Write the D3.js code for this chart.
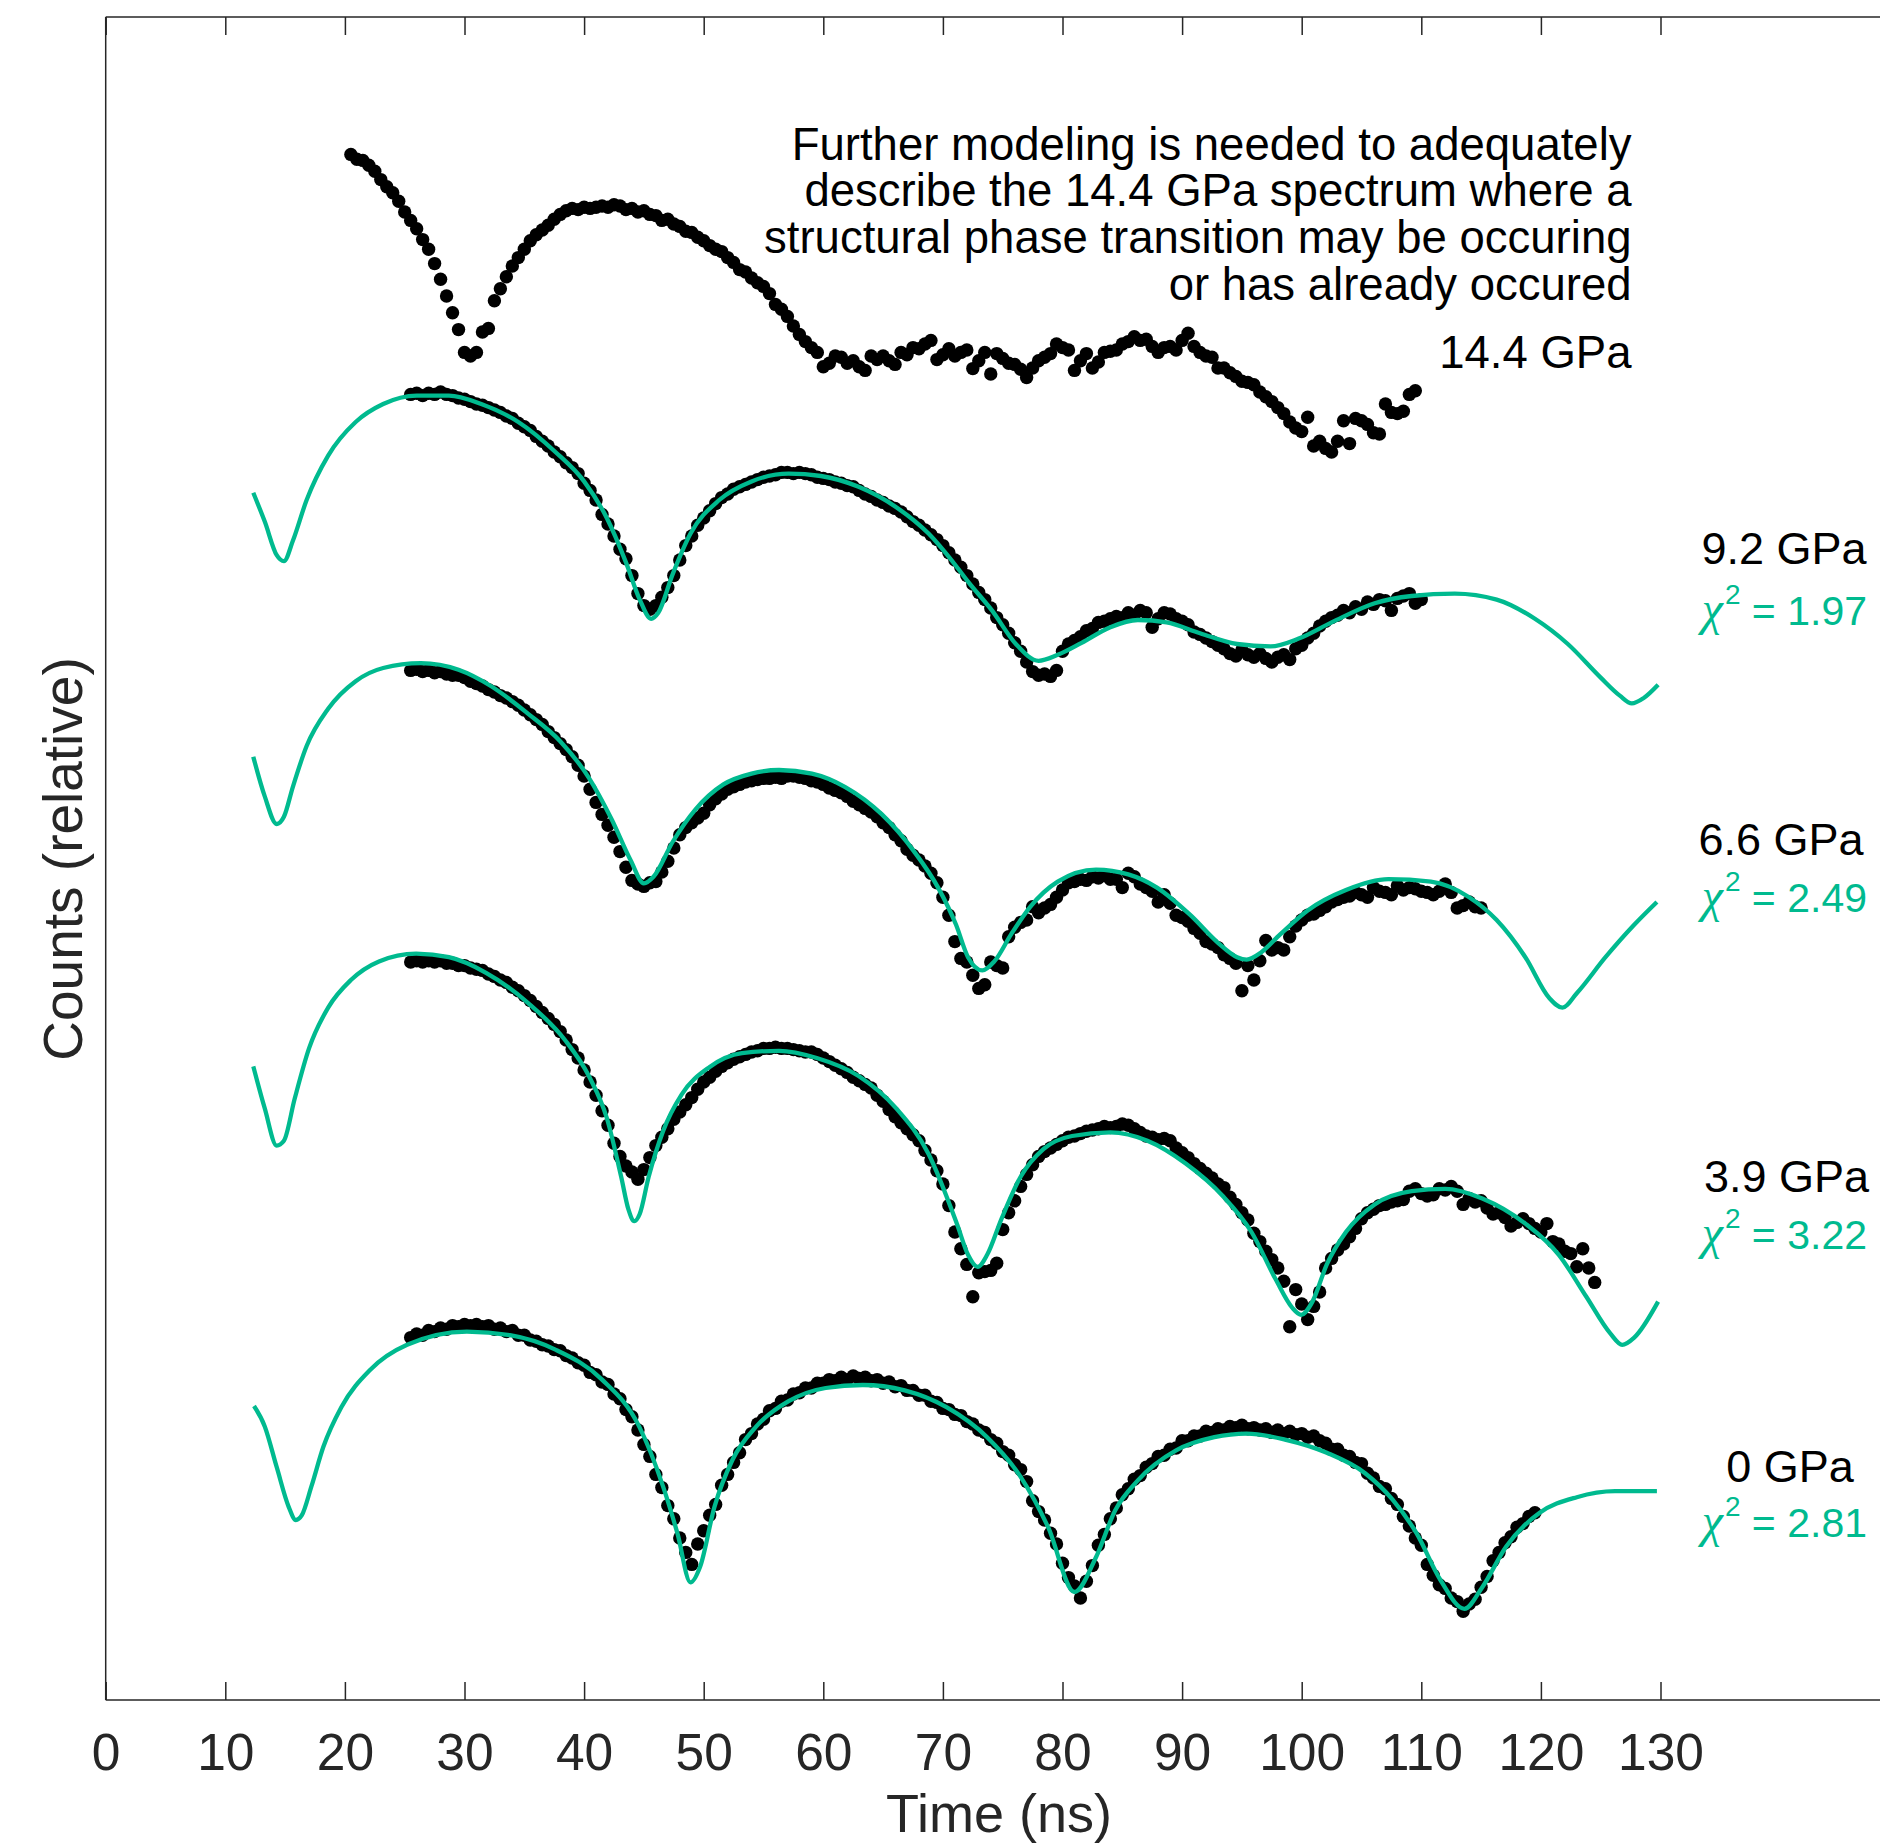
<!DOCTYPE html>
<html>
<head>
<meta charset="utf-8">
<script src="https://cdn.jsdelivr.net/npm/d3@7"></script>
<style>
  html, body { margin: 0; padding: 0; background: #ffffff; }
  svg { display: block; }
</style>
</head>
<body>
<svg id="chart" width="1880" height="1845"></svg>
<script>
// ---------------------------------------------------------------
// Time spectra (relative counts, offset per pressure), 0.5 ns bins
// ---------------------------------------------------------------
const binWidth = 0.5;

const start14_4 = 20.5;
const counts14_4 = [
  128.8,128.4,128.3,127.9,127.4,126.7,126.1,125.6,124.9,124.0,
  123.3,122.6,121.7,120.9,119.7,118.4,117.0,115.6,114.2,112.3,
  112.0,112.3,114.0,114.3,116.6,117.6,118.6,119.5,120.2,120.9,
  121.6,122.1,122.5,122.9,123.4,123.8,124.1,124.3,124.2,124.4,
  124.3,124.4,124.5,124.4,124.6,124.5,124.2,124.3,124.0,124.1,
  123.8,123.7,123.3,123.4,123.0,122.8,122.4,122.3,121.9,121.6,
  121.2,120.9,120.7,120.2,119.8,119.2,119.0,118.5,118.1,117.8,
  117.2,116.3,115.9,115.3,114.5,113.8,113.2,112.7,112.3,111.1,
  111.4,112.0,111.9,111.4,111.6,111.1,110.8,112.0,111.7,112.0,
  111.6,111.3,112.3,112.1,112.7,112.6,113.0,113.3,111.7,112.1,
  112.6,112.0,112.3,112.5,110.95,111.6,112.3,110.5,112.2,111.8,
  111.4,111.3,110.9,110.2,111.0,111.6,111.9,112.2,113.0,112.7,
  112.5,110.8,111.6,112.2,111.0,111.5,112.3,112.4,112.5,113.0,
  113.2,113.6,113.3,113.4,112.8,112.3,112.7,112.8,112.5,113.3,
  113.9,112.8,112.3,112.0,111.9,111.0,111.0,110.6,110.3,109.9,
  109.8,109.6,109.0,108.6,108.2,107.7,107.2,106.5,106.0,105.7,
  106.9,104.5,104.9,104.3,104.0,104.9,106.6,104.7,106.8,106.6,
  106.3,105.6,105.5,108.0,107.3,107.2,107.4,108.8,109.1
];

const start9_2 = 25.5;
const counts9_2 = [
  108.8,108.9,108.7,108.9,108.8,109.0,108.8,108.7,108.5,108.4,
  108.2,108.0,107.9,107.7,107.5,107.3,107.0,106.8,106.4,106.1,
  105.8,105.3,104.9,104.5,104.0,103.6,103.1,102.7,102.2,101.4,
  100.8,100.0,98.8,98.0,97.0,95.9,95.1,93.7,92.2,91.2,
  90.9,91.2,91.9,92.7,93.7,95.0,96.2,97.0,97.9,98.5,
  99.1,99.7,100.2,100.5,100.9,101.1,101.3,101.5,101.7,101.9,
  102.0,102.1,102.3,102.3,102.2,102.3,102.2,102.1,101.9,101.8,
  101.7,101.5,101.4,101.2,101.1,100.8,100.5,100.3,100.0,99.8,
  99.5,99.3,99.0,98.6,98.2,97.9,97.5,97.1,96.7,96.2,
  95.6,95.0,94.4,93.7,93.0,92.3,91.7,91.0,90.2,89.6,
  88.9,88.1,87.4,86.5,85.7,85.4,85.5,85.3,85.8,87.4,
  88.0,88.3,88.6,89.1,89.3,89.8,89.9,90.1,90.3,90.2,
  90.6,90.4,90.8,90.6,89.4,90.1,90.6,90.5,90.1,89.9,
  89.6,89.0,88.8,88.5,88.2,87.9,87.6,87.2,87.0,87.5,
  87.1,86.9,87.2,86.8,86.5,86.9,87.1,86.7,87.6,87.9,
  88.5,88.9,89.5,89.9,90.2,90.4,90.8,90.6,91.1,90.9,
  91.5,91.3,91.7,91.6,90.8,91.8,92.0,92.2,91.4,91.7
];

const start6_6 = 25.5;
const counts6_6 = [
  85.8,85.9,85.7,85.8,85.6,85.7,85.5,85.4,85.4,85.2,
  84.9,84.7,84.5,84.2,84.0,83.7,83.5,83.2,82.9,82.5,
  82.1,81.7,81.3,80.7,80.2,79.7,79.2,78.6,77.9,77.0,
  75.9,74.8,73.8,72.9,71.9,70.7,69.4,68.3,68.0,67.8,
  68.1,68.2,69.0,69.9,71.0,72.1,72.7,73.1,73.5,73.9,
  74.6,75.1,75.5,75.9,76.1,76.3,76.5,76.6,76.7,76.8,
  76.8,76.9,76.8,77.0,77.0,76.9,76.8,76.6,76.5,76.3,
  76.0,75.8,75.6,75.3,74.9,74.6,74.3,74.0,73.6,73.1,
  72.7,72.1,71.6,70.9,70.4,70.0,69.5,68.9,68.1,66.9,
  65.4,63.2,61.8,61.5,60.4,59.3,59.6,61.5,61.2,61.0,
  63.6,64.4,64.8,65.0,66.1,65.6,66.0,66.3,66.9,67.5,
  68.1,68.2,68.4,68.3,68.6,68.5,68.7,68.4,68.4,67.7,
  68.9,68.6,68.0,67.7,67.4,66.5,67.1,66.4,65.4,65.2,
  64.9,64.3,63.9,63.2,63.0,62.7,62.1,61.8,61.4,59.1,
  61.2,60.0,61.6,63.3,62.5,62.7,62.5,63.6,64.5,65.0,
  65.4,65.5,65.8,66.1,66.5,66.7,66.9,67.0,67.3,67.1,
  66.9,67.7,67.4,67.3,67.1,67.85,67.5,67.7,67.6,67.4,
  67.3,67.1,67.4,68.0,67.3,66.0,66.2,66.5,66.1,66.0
];

const start3_9 = 25.5;
const counts3_9 = [
  61.5,61.6,61.5,61.6,61.5,61.6,61.4,61.4,61.2,61.2,
  61.0,60.9,60.8,60.5,60.3,60.0,59.8,59.4,59.1,58.7,
  58.3,57.8,57.3,56.8,56.3,55.7,55.0,54.2,53.5,52.5,
  51.5,50.4,49.1,47.9,46.4,45.3,44.5,44.0,43.4,44.2,
  45.2,46.2,46.9,47.6,48.4,49.0,49.6,50.2,50.9,51.5,
  51.9,52.4,52.8,53.1,53.4,53.6,53.8,54.0,54.1,54.3,
  54.3,54.4,54.3,54.3,54.2,54.1,54.0,54.0,53.8,53.5,
  53.2,52.9,52.6,52.3,51.9,51.6,51.3,51.0,50.4,49.9,
  49.2,48.6,48.1,47.6,47.1,46.6,45.8,45.0,44.1,43.0,
  41.2,39.0,37.6,36.3,33.6,35.6,35.7,35.8,36.4,39.2,
  40.6,41.6,42.8,43.8,44.6,45.3,45.7,46.0,46.3,46.6,
  46.9,47.0,47.2,47.4,47.5,47.6,47.8,47.7,47.8,48.0,
  47.9,47.6,47.3,47.0,46.9,46.7,46.8,46.6,46.0,45.6,
  45.2,44.7,44.3,43.9,43.5,43.0,42.7,41.9,41.3,40.6,
  40.0,38.9,38.2,37.4,36.7,36.0,34.9,31.1,34.2,33.0,
  31.7,32.8,34.0,36.0,36.8,37.5,38.0,38.6,39.3,40.1,
  40.6,40.9,41.2,41.3,41.5,41.6,41.7,42.4,42.6,42.2,
  42.0,42.1,42.6,42.5,42.8,42.4,41.3,41.8,41.5,41.6,
  41.0,40.5,40.6,40.2,39.5,39.8,40.1,39.7,39.3,39.0,
  39.7,38.2,38.0,37.4,37.2,36.1,37.6,36.0,34.8
];

const start0 = 25.5;
const counts0 = [
  30.2,30.5,30.4,30.8,30.7,31.0,30.9,31.2,31.1,31.3,
  31.2,31.3,31.1,31.2,30.9,31.0,30.7,30.8,30.4,30.4,
  30.0,29.9,29.6,29.5,29.2,29.1,28.7,28.5,28.1,27.9,
  27.3,27.1,26.5,26.3,25.5,25.1,24.2,23.6,22.5,21.3,
  20.3,18.8,17.7,16.2,15.1,13.5,12.3,11.3,13.0,14.1,
  15.4,16.3,17.9,18.8,19.8,20.6,21.7,22.2,23.0,23.4,
  24.1,24.3,24.9,25.0,25.5,25.6,26.0,26.0,26.4,26.4,
  26.7,26.6,26.9,26.7,27.0,26.8,26.9,26.6,26.7,26.4,
  26.5,26.1,26.2,25.8,25.8,25.4,25.4,24.9,24.8,24.3,
  24.2,23.8,23.7,23.2,23.0,22.5,22.3,21.7,21.4,20.7,
  20.4,19.6,19.2,18.2,16.6,15.7,15.0,13.9,13.0,11.4,
  10.2,9.5,8.5,9.9,11.2,12.9,13.8,15.1,16.0,17.1,
  17.6,18.4,18.7,19.4,19.7,20.3,20.4,20.9,21.0,21.6,
  21.6,22.0,22.0,22.4,22.3,22.6,22.5,22.8,22.7,22.9,
  22.6,22.7,22.5,22.6,22.3,22.5,22.2,22.4,22.1,22.2,
  21.9,22.0,21.6,21.4,20.9,20.9,20.4,20.3,19.8,19.7,
  18.9,18.5,17.8,17.6,16.8,16.3,15.3,14.5,13.5,12.9,
  11.3,10.4,9.6,9.3,8.5,8.2,7.4,8.0,8.4,9.4,
  10.3,11.6,12.3,13.1,13.6,14.4,14.7,15.3,15.6
];

// ---------------------------------------------------------------
// Fitted model curves: [time (ns), relative counts]
// ---------------------------------------------------------------
const fit9_2 = [
  [12.34,100.6],[13.3,98.2],[14.3,95.4],[14.9,94.9],[15.65,96.6],[16.8,100.0],
  [18.6,103.7],[20.9,106.5],[23.2,108.0],[26.0,108.7],[28.7,108.7],[31.4,108.0],
  [34.5,106.5],[37.6,104.0],[40.0,101.55],[41.9,98.5],[43.5,94.8],[44.65,91.7],
  [45.6,90.1],[46.2,90.6],[47.4,93.8],[48.9,97.2],[51.3,100.0],[54.0,101.55],
  [57.1,102.2],[59.8,102.0],[62.95,101.1],[66.1,99.4],[68.8,97.2],[71.1,94.5],
  [72.1,93.2],[74.1,90.8],[76.1,88.0],[78.0,86.6],[79.6,87.1],[81.6,88.1],
  [84.0,89.4],[86.3,90.0],[88.7,89.8],[91.5,88.9],[94.6,88.0],[97.4,87.8],
  [99.75,88.45],[102.5,89.8],[106.1,91.4],[109.2,92.0],[112.8,92.2],[116.3,91.7],
  [119.5,90.1],[122.25,88.0],[125.0,85.2],[126.6,83.7],[127.6,83.05],[128.6,83.5],
  [129.8,84.6]
];

const fit6_6 = [
  [12.34,78.6],[13.3,75.3],[14.3,73.0],[14.9,73.6],[15.65,76.1],[16.8,79.5],
  [18.6,82.6],[20.9,84.9],[23.2,86.0],[26.35,86.4],[29.5,85.85],[32.2,84.5],
  [35.3,82.2],[38.0,79.9],[40.4,76.85],[42.3,73.4],[43.9,69.96],[45.0,68.05],
  [45.8,68.6],[47.4,71.5],[49.3,74.2],[51.65,76.3],[54.0,77.2],[56.3,77.5],
  [59.05,77.2],[61.8,76.1],[64.9,73.8],[67.6,70.7],[69.6,67.7],[71.1,64.6],
  [72.1,61.9],[73.3,60.8],[74.3,61.55],[75.7,63.8],[77.3,66.1],[79.6,68.2],
  [82.8,69.2],[85.5,68.8],[87.9,67.7],[90.7,65.4],[93.0,63.1],[94.6,61.9],
  [95.4,61.7],[96.6,62.3],[98.2,63.8],[100.5,65.8],[103.7,67.5],[107.25,68.4],
  [110.8,68.2],[114.0,66.9],[116.3,65.0],[118.7,61.9],[120.7,58.5],[121.8,57.7],
  [123.0,58.9],[125.4,61.9],[127.8,64.6],[129.7,66.5]
];

const fit3_9 = [
  [12.34,52.8],[13.3,49.3],[14.3,46.2],[14.9,46.6],[15.8,50.1],[17.0,54.3],
  [18.6,57.7],[20.5,60.0],[22.85,61.55],[25.96,62.2],[28.7,61.9],[31.8,60.6],
  [35.3,58.1],[38.4,55.0],[40.4,52.0],[41.9,48.5],[43.1,43.6],[43.7,40.9],
  [44.2,39.9],[44.65,40.5],[45.4,43.6],[46.6,47.4],[48.15,50.45],[50.5,52.75],
  [53.2,53.9],[56.3,54.1],[59.45,53.5],[62.95,52.0],[66.1,49.3],[68.8,45.5],
  [71.2,39.6],[72.1,37.1],[72.9,36.1],[73.7,37.1],[74.9,40.1],[76.5,43.6],
  [78.4,45.9],[80.8,47.0],[84.0,47.3],[87.1,46.6],[90.3,44.7],[93.4,42.0],
  [95.8,39.0],[97.8,35.1],[99.2,32.7],[99.95,32.1],[100.9,33.2],[102.1,36.3],
  [103.7,39.0],[106.1,41.3],[109.2,42.4],[112.0,42.6],[115.1,41.8],[118.7,39.7],
  [121.5,37.1],[123.8,33.6],[125.8,30.55],[126.8,29.6],[127.8,30.2],[129.8,33.2]
];

const fit0 = [
  [12.4,24.5],[13.3,22.8],[14.3,19.4],[15.3,16.1],[15.9,15.0],[16.4,15.4],
  [17.2,17.8],[18.2,21.1],[19.7,24.4],[22.1,27.5],[25.2,29.6],[30.2,30.7],
  [33.8,30.4],[37.6,29.2],[41.5,26.7],[44.6,22.8],[46.6,17.8],[47.8,13.9],
  [48.9,9.8],[49.7,11.1],[50.9,16.1],[52.4,20.0],[54.4,22.8],[57.1,24.9],
  [60.2,26.0],[63.3,26.25],[66.8,25.8],[70.3,24.4],[73.7,21.9],[76.5,18.6],
  [78.8,14.4],[81.0,9.0],[82.8,11.9],[84.4,15.8],[86.3,18.3],[89.5,20.8],
  [92.7,21.9],[95.4,22.2],[98.6,21.7],[102.1,20.6],[105.3,18.9],[107.6,16.7],
  [109.6,13.9],[111.6,10.0],[113.6,7.6],[115.1,9.4],[117.1,12.8],[119.9,15.6],
  [123.0,16.9],[126.2,17.4],[129.7,17.4]
];

// ---------------------------------------------------------------
// Labels and ticks
// ---------------------------------------------------------------
const xTickValues = [0, 10, 20, 30, 40, 50, 60, 70, 80, 90, 100, 110, 120, 130];
const pressureNames = ["9.2 GPa", "6.6 GPa", "3.9 GPa", "0 GPa"];
const chiSquaredValues = ["1.97", "2.49", "3.22", "2.81"];
const noteLines = [
  "Further modeling is needed to adequately",
  "describe the 14.4 GPa spectrum where a",
  "structural phase transition may be occuring",
  "or has already occured"
];
const topSpectrumName = "14.4 GPa";

// ---------------------------------------------------------------
// Drawing
// ---------------------------------------------------------------
const GREEN = "#00ba8f";
const AXIS = "#262626";
const SANS = "'Liberation Sans', Arial, Helvetica, sans-serif";
const SERIF = "'Liberation Serif', 'Times New Roman', serif";

const svg = d3.select("#chart");
const frame = { left: 105.7, top: 17, bottom: 1700, right: 1880 };

const x = d3.scaleLinear().domain([0, 130]).range([105.7, 1660.5]);
const y = d3.scaleLinear().domain([0, 140.25]).range([frame.bottom, frame.top]);

// axes box (open on the right, where the panel runs off the page)
svg.append("line").attr("x1", frame.left).attr("x2", frame.right)
  .attr("y1", frame.bottom).attr("y2", frame.bottom)
  .attr("stroke", AXIS).attr("stroke-width", 1.5);
svg.append("line").attr("x1", frame.left).attr("x2", frame.right)
  .attr("y1", frame.top).attr("y2", frame.top)
  .attr("stroke", AXIS).attr("stroke-width", 1.5);
svg.append("line").attr("x1", frame.left).attr("x2", frame.left)
  .attr("y1", frame.top).attr("y2", frame.bottom)
  .attr("stroke", AXIS).attr("stroke-width", 1.5);

const bottomAxis = svg.append("g")
  .attr("transform", `translate(0,${frame.bottom})`)
  .call(d3.axisBottom(x).tickValues(xTickValues).tickSizeInner(-18).tickSizeOuter(0).tickPadding(33));
bottomAxis.select(".domain").remove();
bottomAxis.selectAll(".tick line").attr("stroke", AXIS).attr("stroke-width", 1.5);
bottomAxis.selectAll(".tick text")
  .attr("fill", AXIS).style("font-family", SANS).style("font-size", "51.5px");

const topAxis = svg.append("g")
  .attr("transform", `translate(0,${frame.top})`)
  .call(d3.axisTop(x).tickValues(xTickValues).tickSizeInner(-18).tickSizeOuter(0).tickFormat(""));
topAxis.select(".domain").remove();
topAxis.selectAll(".tick line").attr("stroke", AXIS).attr("stroke-width", 1.5);

// axis titles
svg.append("text")
  .attr("x", 999).attr("y", 1832)
  .attr("text-anchor", "middle")
  .attr("fill", AXIS)
  .style("font-family", SANS).style("font-size", "54px")
  .text("Time (ns)");

svg.append("text")
  .attr("transform", `translate(82,${859}) rotate(-90)`)
  .attr("text-anchor", "middle")
  .attr("fill", AXIS)
  .style("font-family", SANS).style("font-size", "55px")
  .text("Counts (relative)");

// measured spectra as dots
const spectra = [
  { start: start14_4, counts: counts14_4 },
  { start: start9_2, counts: counts9_2 },
  { start: start6_6, counts: counts6_6 },
  { start: start3_9, counts: counts3_9 },
  { start: start0, counts: counts0 }
];

const dotLayer = svg.append("g");
spectra.forEach(s => {
  const pts = s.counts.map((v, i) => [s.start + i * binWidth, v]);
  dotLayer.append("g")
    .selectAll("circle")
    .data(pts)
    .join("circle")
    .attr("cx", d => x(d[0]))
    .attr("cy", d => y(d[1]))
    .attr("r", 6.7)
    .attr("fill", "#000000");
});

// fitted curves on top of the dots
const line = d3.line()
  .x(d => x(d[0]))
  .y(d => y(d[1]))
  .curve(d3.curveMonotoneX);

const fitLayer = svg.append("g");
[fit9_2, fit6_6, fit3_9, fit0].forEach(f => {
  fitLayer.append("path")
    .attr("d", line(f))
    .attr("fill", "none")
    .attr("stroke", GREEN)
    .attr("stroke-width", 4.3)
    .attr("stroke-linejoin", "round")
    .attr("stroke-linecap", "butt");
});

// note about the top spectrum
const note = svg.append("text")
  .attr("text-anchor", "end")
  .attr("fill", "#000000")
  .style("font-family", SANS).style("font-size", "45.5px");
const noteBaselines = [159.5, 206, 253, 300];
noteLines.forEach((txt, i) => {
  note.append("tspan").attr("x", 1631.5).attr("y", noteBaselines[i]).text(txt);
});

svg.append("text")
  .attr("x", 1631.5).attr("y", 368)
  .attr("text-anchor", "end")
  .attr("fill", "#000000")
  .style("font-family", SANS).style("font-size", "45.5px")
  .text(topSpectrumName);

// pressure and goodness-of-fit labels at the right
const labelCenters = [1784, 1781, 1786.5, 1790];
const labelBaselines = [564, 855, 1192, 1482];
const chiBaselines = [625, 912, 1249, 1537];

pressureNames.forEach((name, i) => {
  svg.append("text")
    .attr("x", labelCenters[i]).attr("y", labelBaselines[i])
    .attr("text-anchor", "middle")
    .attr("fill", "#000000")
    .style("font-family", SANS).style("font-size", "45px")
    .text(name);

  const chi = svg.append("text")
    .attr("x", 1867).attr("y", chiBaselines[i])
    .attr("text-anchor", "end")
    .attr("fill", GREEN)
    .style("font-family", SANS).style("font-size", "41px");
  chi.append("tspan")
    .style("font-family", SERIF).style("font-style", "italic").style("font-size", "48px")
    .text("\u03C7");
  chi.append("tspan")
    .attr("dx", 2)
    .attr("dy", -21)
    .style("font-size", "28px")
    .text("2");
  chi.append("tspan")
    .attr("dy", 21)
    .text(" = " + chiSquaredValues[i]);
});
</script>
</body>
</html>
